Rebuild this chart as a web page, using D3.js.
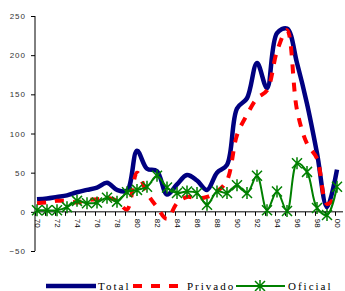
<!DOCTYPE html>
<html>
<head>
<meta charset="utf-8">
<script src="https://cdn.jsdelivr.net/npm/d3@7"></script>
<style>
  body { margin: 0; background: #fff; }
  .axis path, .axis line { stroke: #000; }
  .ylab text { font-family: "Liberation Sans", Arial, sans-serif; font-size: 8px; fill: #333; letter-spacing: 1px; }
  .xlab text { font-family: "Liberation Sans", Arial, sans-serif; font-size: 8px; fill: #000; }
  .legend text { font-family: "Liberation Serif", "Times New Roman", serif; font-size: 11px; letter-spacing: 2px; fill: #000; }
</style>
</head>
<body>
<div id="chart"></div>
<script>
var years = d3.range(1970, 2001);
var total = [16, 17, 19, 21, 25, 28, 31, 37, 28, 27, 78, 55, 52, 22, 35, 47, 40, 28, 50, 60, 132, 145, 190, 158, 228, 234, 190, 138, 75, 6, 54];
var privado = [11, 12, 14, 14, 12, 15, 16, 18, 14, 3, 50, 24, 6, -9, 11, 19, 17, 19, 26, 40, 98, 124, 145, 155, 205, 232, 130, 87, 68, 10, 22];
var oficial = [2, 2, 2, 6, 14, 11, 12, 18, 13, 25, 28, 32, 46, 31, 24, 26, 24, 9, 26, 24, 34, 24, 46, 2, 26, 1, 62, 51, 5, -4, 32];
var yTicks = [-50, 0, 50, 100, 150, 200, 250];
var seriesNames = ["Total", "Privado", "Oficial"];

var width = 345;
var height = 291;

var svg = d3.select("#chart")
  .append("svg")
  .attr("width", width)
  .attr("height", height);

var xScale = d3.scaleLinear()
  .domain([1970, 2000])
  .range([37, 337]);

var yScale = d3.scaleLinear()
  .domain([-50, 250])
  .range([251, 16]);

// y axis
svg.append("g")
  .attr("class", "axis ylab")
  .attr("transform", "translate(35,0)")
  .call(d3.axisLeft(yScale).tickValues(yTicks).tickSize(4).tickPadding(5).tickFormat(d3.format("d")))
  .call(function(g) { g.select(".domain").attr("d", "M0,16V251"); });

// x axis along zero
var xAxis = svg.append("g")
  .attr("class", "axis xlab")
  .attr("transform", "translate(0," + yScale(0) + ")")
  .call(d3.axisBottom(xScale).tickValues(years).tickSize(4)
    .tickFormat(function(d) { return d % 2 === 0 ? String(d).slice(2) : ""; }))
  .call(function(g) { g.select(".domain").attr("d", "M35,0H343"); });

xAxis.selectAll(".tick line").attr("transform", "translate(-2,0)");
xAxis.selectAll(".tick text")
  .attr("transform", "rotate(90)")
  .attr("x", 7)
  .attr("y", 0)
  .attr("dy", "0.35em")
  .attr("text-anchor", "start");

var line = d3.line()
  .x(function(d, i) { return xScale(years[i]); })
  .y(function(d) { return yScale(d); })
  .curve(d3.curveCatmullRom.alpha(0.5));

svg.append("path")
  .datum(total)
  .attr("d", line)
  .attr("fill", "none")
  .attr("stroke", "#000080")
  .attr("stroke-width", 4.5);

svg.append("path")
  .datum(privado)
  .attr("d", line)
  .attr("fill", "none")
  .attr("stroke", "#ff0000")
  .attr("stroke-width", 4)
  .attr("stroke-dasharray", "9,9");

svg.append("path")
  .datum(oficial)
  .attr("d", line)
  .attr("fill", "none")
  .attr("stroke", "#008000")
  .attr("stroke-width", 2);

function star(g, x, y) {
  var s = 5;
  g.append("path")
    .attr("d", "M" + (x - s) + "," + (y - s) + "L" + (x + s) + "," + (y + s) +
      "M" + (x - s) + "," + (y + s) + "L" + (x + s) + "," + (y - s) +
      "M" + x + "," + (y - s - 1) + "L" + x + "," + (y + s + 1))
    .attr("stroke", "#008000")
    .attr("stroke-width", 1.5)
    .attr("fill", "none");
}

var marks = svg.append("g");
oficial.forEach(function(d, i) { star(marks, xScale(years[i]), yScale(d)); });

// legend
var legend = svg.append("g").attr("class", "legend");
var ly = 286;
legend.append("line").attr("x1", 46).attr("x2", 96).attr("y1", ly).attr("y2", ly)
  .attr("stroke", "#000080").attr("stroke-width", 4.5);
legend.append("text").attr("x", 98).attr("y", ly + 4).text(seriesNames[0]);
legend.append("line").attr("x1", 133).attr("x2", 183).attr("y1", ly).attr("y2", ly)
  .attr("stroke", "#ff0000").attr("stroke-width", 4).attr("stroke-dasharray", "9,9");
legend.append("text").attr("x", 187).attr("y", ly + 4).text(seriesNames[1]);
legend.append("line").attr("x1", 236).attr("x2", 285).attr("y1", ly).attr("y2", ly)
  .attr("stroke", "#008000").attr("stroke-width", 2);
star(legend, 260, ly);
legend.append("text").attr("x", 288).attr("y", ly + 4).text(seriesNames[2]);
</script>
</body>
</html>
